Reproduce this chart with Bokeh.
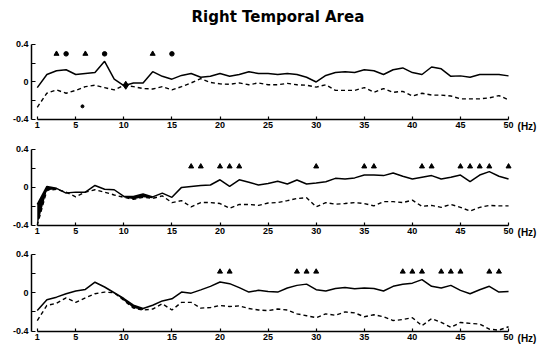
from bokeh.plotting import figure
from bokeh.models import Range1d, FixedTicker, CustomJSTickFormatter
from bokeh.core.properties import value
from bokeh.layouts import column
from bokeh.embed import file_html
from bokeh.resources import INLINE

FREQ = list(range(1, 51))

P1_SOLID = [-0.06, 0.08, 0.12, 0.13, 0.08, 0.09, 0.10, 0.22, 0.03, -0.04,
            -0.01, -0.01, 0.11, 0.06, 0.03, 0.07, 0.09, 0.05, 0.06, 0.09,
            0.06, 0.08, 0.11, 0.09, 0.09, 0.08, 0.09, 0.08, 0.05, 0.0,
            0.07, 0.10, 0.11, 0.10, 0.13, 0.12, 0.08, 0.13, 0.15, 0.10,
            0.08, 0.16, 0.14, 0.06, 0.065, 0.05, 0.08, 0.08, 0.08, 0.065]
P1_DASHED = [-0.27, -0.12, -0.085, -0.12, -0.09, -0.05, -0.035, -0.06, -0.085, -0.035,
             -0.05, -0.07, -0.075, -0.05, -0.085, -0.05, -0.01, 0.035, -0.005, -0.02,
             -0.025, -0.01, -0.03, -0.01, -0.03, -0.03, -0.015, -0.03, -0.035, -0.055,
             -0.03, -0.09, -0.09, -0.09, -0.06, -0.11, -0.07, -0.11, -0.10, -0.15,
             -0.12, -0.14, -0.14, -0.15, -0.18, -0.18, -0.18, -0.17, -0.145, -0.19]
P1_TRI = [3, 6, 13]
P1_DOT = [4, 8, 15]
P1_MARK_Y = 0.3
P1_STRAY = (5.7, -0.26)
P1_BLOB = (10.2, -0.035)

P2_SOLID = [-0.18, 0.01, -0.01, -0.06, -0.05, -0.05, 0.02, -0.02, -0.025, -0.095,
            -0.095, -0.07, -0.10, -0.06, -0.105, 0.0, 0.01, 0.02, 0.025, 0.08,
            0.01, 0.08, 0.055, 0.025, 0.04, 0.064, 0.035, 0.078, 0.035, 0.046,
            0.06, 0.095, 0.088, 0.10, 0.13, 0.13, 0.124, 0.152, 0.117, 0.088,
            0.106, 0.124, 0.088, 0.106, 0.13, 0.06, 0.13, 0.166, 0.117, 0.088]
P2_DASHED = [-0.40, -0.03, -0.02, -0.05, -0.10, -0.05, -0.025, -0.05, -0.08, -0.105,
             -0.125, -0.105, -0.115, -0.09, -0.16, -0.14, -0.205, -0.16, -0.16, -0.17,
             -0.22, -0.18, -0.18, -0.19, -0.165, -0.16, -0.14, -0.117, -0.11, -0.205,
             -0.16, -0.177, -0.17, -0.16, -0.17, -0.195, -0.15, -0.15, -0.16, -0.135,
             -0.20, -0.19, -0.21, -0.18, -0.21, -0.25, -0.21, -0.19, -0.195, -0.195]
P2_TRI = [17, 18, 20, 21, 22, 30, 35, 36, 41, 42, 45, 46, 47, 48, 50]
P2_MARK_Y = 0.22
P2_FILL = [(1, 3), (10, 13)]

P3_SOLID = [-0.186, -0.074, -0.046, -0.01, 0.018, 0.035, 0.11, 0.06, 0.0, -0.06,
            -0.13, -0.165, -0.13, -0.085, -0.063, 0.007, -0.004, 0.03, 0.067, 0.112,
            0.095, 0.053, 0.007, 0.025, 0.014, 0.007, 0.05, 0.077, 0.09, 0.032,
            0.018, 0.045, 0.055, 0.042, 0.05, 0.045, 0.018, 0.067, 0.088, 0.10,
            0.137, 0.067, 0.05, 0.077, 0.025, -0.01, 0.032, 0.067, 0.007, 0.014]
P3_DASHED = [-0.29, -0.133, -0.11, -0.053, -0.10, -0.053, -0.01, 0.007, 0.0, -0.08,
             -0.16, -0.18, -0.17, -0.115, -0.18, -0.10, -0.10, -0.16, -0.155, -0.133,
             -0.144, -0.137, -0.165, -0.18, -0.186, -0.17, -0.18, -0.22, -0.24, -0.26,
             -0.22, -0.235, -0.20, -0.21, -0.25, -0.23, -0.25, -0.29, -0.28, -0.26,
             -0.344, -0.27, -0.31, -0.36, -0.31, -0.32, -0.326, -0.38, -0.39, -0.355]
P3_TRI = [20, 21, 28, 29, 30, 39, 40, 41, 43, 44, 45, 48, 49]
P3_MARK_Y = 0.22
P3_FILL = [(9, 12)]

X_TICKS = [1, 5, 10, 15, 20, 25, 30, 35, 40, 45, 50]
Y_TICKS = [-0.4, 0, 0.4]
Y_MINOR = [-0.2, 0.2]

TITLE = "Right Temporal Area"
UNIT = "(Hz)"
FONT = "Liberation Sans"

FRAME_W = 511


def make_panel(solid, dashed, tri_x, mark_y, fills, top_border, frame_h, y_lo, y_hi):
    h = top_border + frame_h
    p = figure(width=31 + FRAME_W + 1, height=h, output_backend="svg",
               toolbar_location=None,
               x_range=Range1d(0.4, 53.53), y_range=Range1d(y_lo, y_hi),
               min_border_left=31, min_border_right=1,
               min_border_top=top_border, min_border_bottom=0)
    p.outline_line_color = None
    p.xgrid.visible = False
    p.ygrid.visible = False
    p.background_fill_color = "white"

    for (a, b) in fills:
        xs = FREQ[a - 1:b]
        p.varea(x=xs, y1=solid[a - 1:b], y2=dashed[a - 1:b], fill_color="black")

    p.line(FREQ, solid, line_color="black", line_width=1.5)
    p.line(FREQ, dashed, line_color="black", line_width=1.4, line_dash="4 3")
    p.scatter(tri_x, [mark_y] * len(tri_x), marker="triangle", size=5,
              fill_color="black", line_color="black")

    for ax in (p.xaxis[0], p.yaxis[0]):
        ax.axis_line_width = 1.5
        ax.axis_line_color = "black"
        ax.major_tick_line_color = "black"
        ax.major_tick_line_width = 1.2
        ax.minor_tick_line_color = "black"
        ax.major_tick_out = 0
        ax.minor_tick_out = 0
        ax.major_label_text_font = FONT
        ax.major_label_text_font_style = "bold"
        ax.major_label_text_font_size = "9px"
        ax.major_label_text_color = "black"
        ax.major_label_standoff = 3

    xa = p.xaxis[0]
    xa.ticker = FixedTicker(ticks=X_TICKS)
    xa.major_tick_in = 3
    xa.minor_tick_in = 0
    xa.bounds = (1, 50)
    xa.fixed_location = -0.4
    ya = p.yaxis[0]
    ya.ticker = FixedTicker(ticks=Y_TICKS, minor_ticks=Y_MINOR)
    ya.major_tick_in = 4
    ya.minor_tick_in = 4
    ya.minor_tick_line_width = 1.2
    ya.bounds = (-0.4, 0.4)
    ya.formatter = CustomJSTickFormatter(
        code="return Math.abs(tick) < 1e-9 ? '0' : tick.toFixed(1);")

    p.text(x=[X_TICKS[-1]], y=[Y_TICKS[0]], text=[UNIT], x_offset=9, y_offset=2,
           text_font=value(FONT), text_font_style="bold", text_font_size="10px",
           text_baseline="top", text_align="left", text_color="black")
    return p


f1 = make_panel(P1_SOLID, P1_DASHED, P1_TRI, P1_MARK_Y, [], 0, 135, -0.571, 0.869)
f1.scatter(P1_DOT, [P1_MARK_Y] * len(P1_DOT), marker="circle", size=4.5,
           fill_color="black", line_color="black")
f1.scatter([P1_STRAY[0]], [P1_STRAY[1]], marker="circle", size=3,
           fill_color="black", line_color="black")
f1.scatter([P1_BLOB[0]], [P1_BLOB[1]], marker="diamond", size=8,
           fill_color="black", line_color="black")
f1.text(x=[(X_TICKS[0] + X_TICKS[-1]) / 2], y=[Y_TICKS[-1]], text=[TITLE],
        x_offset=5, y_offset=-27,
        text_font=value("DejaVu Sans"), text_font_style="bold", text_font_size="15px",
        text_align="center", text_baseline="middle", text_color="black")
f2 = make_panel(P2_SOLID, P2_DASHED, P2_TRI, P2_MARK_Y, P2_FILL, 12, 94, -0.57, 0.42)
f3 = make_panel(P3_SOLID, P3_DASHED, P3_TRI, P3_MARK_Y, P3_FILL, 11, 92, -0.54, 0.42)

layout = column(f1, f2, f3, spacing=0)
open("out.html", "w").write(file_html(layout, INLINE))
